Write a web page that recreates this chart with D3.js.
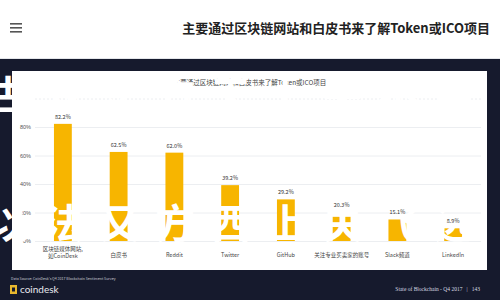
<!DOCTYPE html>
<html>
<head>
<meta charset="utf-8">
<script src="https://cdn.jsdelivr.net/npm/d3@7"></script>
<style>
    body { margin: 0; background: #fff; }
    svg { display: block; font-family: "Noto Sans CJK SC", "Noto Sans", sans-serif; }
</style>
</head>
<body>
<div id="chart"></div>
<script>

    //--------------------------------------------------------------------------
    //
    // data
    //

    var pageTitle = "主要通过区块链网站和白皮书来了解Token或ICO项目";
    var categories = ["区块链媒体网站,|如CoinDesk", "白皮书", "Reddit", "Twitter", "GitHub",
                      "关注专业买卖家的账号", "Slack频道", "LinkedIn"];
    var shares = [82.2, 62.5, 62.0, 39.2, 29.2, 20.3, 15.1, 8.9];
    var yTicks = [0, 20, 40, 60, 80, 100];
    var sourceText = "Data Source: CoinDesk's Q4 2017 Blockchain Sentiment Survey";
    var pageNote = "State of Blockchain - Q4 2017   |   143";
    var markRows = ["古双法方天上关不会", "以法又方西上关飞远"];

    //--------------------------------------------------------------------------
    //
    // page geometry
    //

    var outerWidth = 500,
        outerHeight = 300,
        headerHeight = 59,
        card = {x: 12, y: 71, w: 475, h: 199},
        plot = {left: 35, right: 481, top: 98.5, bottom: 241};

    var svg = d3.select("#chart").append("svg")
        .attr("width", outerWidth)
        .attr("height", outerHeight);

    // dark slide background
    svg.append("rect")
        .attr("y", headerHeight)
        .attr("width", outerWidth)
        .attr("height", outerHeight - headerHeight)
        .attr("fill", "#161a2d");

    // header bar
    svg.append("rect")
        .attr("width", outerWidth)
        .attr("height", headerHeight)
        .attr("fill", "#ffffff");
    svg.append("line")
        .attr("x1", 0).attr("x2", outerWidth)
        .attr("y1", headerHeight - 0.5).attr("y2", headerHeight - 0.5)
        .attr("stroke", "#e4e6ea");

    var burger = svg.append("g").attr("transform", "translate(10,23)");
    [0, 4, 8].forEach(function (dy) {
        burger.append("rect")
            .attr("y", dy)
            .attr("width", 12)
            .attr("height", 1.6)
            .attr("fill", "#555");
    });

    svg.append("text")
        .attr("x", 490)
        .attr("y", 33)
        .attr("text-anchor", "end")
        .attr("font-size", 13)
        .attr("font-weight", "bold")
        .attr("fill", "#222")
        .text(pageTitle);

    // white card
    svg.append("rect")
        .attr("x", card.x)
        .attr("y", card.y)
        .attr("width", card.w)
        .attr("height", card.h)
        .attr("fill", "#ffffff");

    svg.append("text")
        .attr("x", 250)
        .attr("y", 85)
        .attr("text-anchor", "middle")
        .attr("font-size", 6.5)
        .attr("fill", "#444")
        .text(pageTitle);

    //--------------------------------------------------------------------------
    //
    // scales and axes
    //

    var x = d3.scaleBand()
        .domain(categories)
        .range([plot.left, plot.right])
        .paddingInner(0.68)
        .paddingOuter(0.34);

    var y = d3.scaleLinear()
        .domain([0, 100])
        .range([plot.bottom, plot.top]);

    var grid = svg.append("g")
        .attr("transform", "translate(" + plot.left + ",0)")
        .call(d3.axisLeft(y)
            .tickValues(yTicks)
            .tickSize(-(plot.right - plot.left))
            .tickFormat(function (d) { return d === 100 ? "" : d + "%"; }));
    grid.select(".domain").remove();
    grid.selectAll(".tick line")
        .attr("stroke", "#eceef1")
        .attr("stroke-dasharray", function (d) { return d === 100 ? "2,2" : null; });
    grid.selectAll(".tick text")
        .attr("x", -4)
        .attr("font-size", 5.5)
        .attr("fill", "#555");

    //--------------------------------------------------------------------------
    //
    // bars
    //

    var bars = svg.append("g");

    bars.selectAll("rect")
        .data(shares)
        .enter().append("rect")
        .attr("x", function (d, i) { return x(categories[i]); })
        .attr("y", function (d) { return y(d); })
        .attr("width", x.bandwidth())
        .attr("height", function (d) { return y(0) - y(d); })
        .attr("fill", "#f7b500");

    //--------------------------------------------------------------------------
    //
    // big white overlay characters (sit over the bars, under the labels)
    //

    svg.selectAll(".mark")
        .data(markRows)
        .enter().append("text")
        .attr("class", "mark")
        .attr("x", -12)
        .attr("y", function (d, i) { return i ? 238 : 110; })
        .attr("font-size", 40)
        .attr("font-weight", "bold")
        .attr("letter-spacing", 15.7)
        .attr("fill", "#ffffff")
        .text(function (d) { return d; });

    //--------------------------------------------------------------------------
    //
    // labels
    //

    var texts = svg.append("g");

    texts.selectAll(".value")
        .data(shares)
        .enter().append("text")
        .attr("class", "value")
        .attr("x", function (d, i) { return x(categories[i]) + x.bandwidth() / 2; })
        .attr("y", function (d) { return y(d) - 5; })
        .attr("text-anchor", "middle")
        .attr("font-size", 5.5)
        .attr("fill", "#333")
        .text(function (d) { return d.toFixed(1) + "%"; });

    var labels = texts.selectAll(".cat")
        .data(categories)
        .enter().append("text")
        .attr("class", "cat")
        .attr("text-anchor", "middle")
        .attr("font-size", 5.5)
        .attr("fill", "#444")
        .attr("transform", function (d) {
            var yy = d.indexOf("|") >= 0 ? 251 : 257;
            return "translate(" + (x(d) + x.bandwidth() / 2) + "," + yy + ")";
        });
    labels.selectAll("tspan")
        .data(function (d) { return d.split("|"); })
        .enter().append("tspan")
        .attr("x", 0)
        .attr("dy", function (d, i) { return i ? 7 : 0; })
        .text(function (d) { return d; });

    //--------------------------------------------------------------------------
    //
    // footer
    //

    svg.append("text")
        .attr("x", 11)
        .attr("y", 280)
        .attr("font-size", 3.6)
        .attr("fill", "#c9ccd6")
        .text(sourceText);

    var logo = svg.append("g").attr("transform", "translate(10,285)");
    logo.append("rect")
        .attr("width", 7)
        .attr("height", 9)
        .attr("fill", "#e9b82e");
    logo.append("rect")
        .attr("x", 2).attr("y", 2.5)
        .attr("width", 3).attr("height", 4)
        .attr("fill", "#161a2d");
    logo.append("text")
        .attr("x", 10)
        .attr("y", 8)
        .attr("font-family", "Lato, sans-serif")
        .attr("font-size", 10)
        .attr("fill", "#e8e9ee")
        .text("coindesk");

    svg.append("text")
        .attr("x", 480)
        .attr("y", 291)
        .attr("text-anchor", "end")
        .attr("font-family", "Liberation Serif, serif")
        .attr("font-size", 5.5)
        .attr("fill", "#d8dae2")
        .attr("xml:space", "preserve")
        .text(pageNote);

</script>
</body>
</html>
